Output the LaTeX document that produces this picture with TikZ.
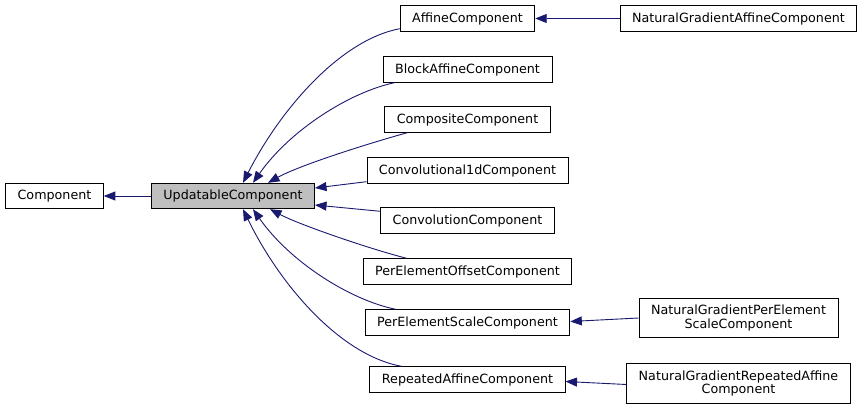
\documentclass[tikz,border=0pt]{standalone}
\usepackage{fontspec}
\setmainfont{DejaVu Sans}
\usetikzlibrary{arrows.meta}
\definecolor{edgeblue}{HTML}{191970}
\tikzset{
cls/.style={draw=black,line width=0.9pt,fill=white,inner xsep=12pt,inner ysep=4pt,minimum height=25.5pt,
font=\fontsize{12.7}{13.5}\selectfont,align=center},
base/.style={cls,fill=black!25},
twoline/.style={cls,inner ysep=7pt},
inherit/.style={draw=edgeblue,line width=0.9pt,-{Triangle[length=11.5pt,width=9pt]}}
}
\begin{document}
\begin{tikzpicture}[x=1pt,y=-1pt]
\useasboundingbox (0,0) rectangle (861,409);
\node[cls] (comp) at (54.5,196) {Component};
\node[base] (upd) at (233,196) {UpdatableComponent};
\node[cls] (aff) at (467.5,18.5) {AffineComponent};
\node[cls] (blk) at (467.5,69.5) {BlockAffineComponent};
\node[cls] (cmp) at (467.5,119.5) {CompositeComponent};
\node[cls] (cv1) at (467.5,170.5) {Convolutional1dComponent};
\node[cls] (cvn) at (467.5,220.5) {ConvolutionComponent};
\node[cls] (peo) at (467.5,271.5) {PerElementOffsetComponent};
\node[cls] (pes) at (467.5,322.5) {PerElementScaleComponent};
\node[cls] (rpa) at (467.5,379.5) {RepeatedAffineComponent};
\node[cls] (ngaff) at (738.5,18.5) {NaturalGradientAffineComponent};
\node[twoline] (ngpes) at (738.5,318) {NaturalGradientPerElement\\ScaleComponent};
\node[twoline] (ngrpa) at (738.5,383.5) {NaturalGradientRepeatedAffine\\Component};
% base classes
\draw[inherit] (upd) -- (comp);
\draw[inherit] ([yshift=3pt]aff.south west) .. controls (340,40) and (280,110) .. ([xshift=10pt]upd.north);
\draw[inherit] ([xshift=12pt]blk.south west) .. controls (350,92) and (290,130) .. ([xshift=20pt]upd.north);
\draw[inherit] ([xshift=23pt]cmp.south west) .. controls (370,143) and (300,165) .. ([xshift=35pt]upd.north);
\draw[inherit] ([yshift=2pt]cv1.south west) -- ([yshift=8pt]upd.east);
\draw[inherit] ([yshift=-4pt]cvn.north west) -- ([yshift=-9pt]upd.east);
\draw[inherit] ([xshift=44pt]peo.north west) .. controls (370,249) and (300,225) .. ([xshift=37pt]upd.south);
\draw[inherit] ([xshift=31pt]pes.north west) .. controls (350,300) and (290,262) .. ([xshift=20pt]upd.south);
\draw[inherit] ([xshift=32pt]rpa.north west) .. controls (340,355) and (280,285) .. ([xshift=10pt]upd.south);
% natural gradient versions
\draw[inherit] (ngaff) -- (aff);
\draw[inherit] (ngpes.west) -- ([yshift=1pt]pes.east);
\draw[inherit] ([yshift=-1pt]ngrpa.west) -- ([yshift=-2pt]rpa.east);
\end{tikzpicture}
\end{document}
